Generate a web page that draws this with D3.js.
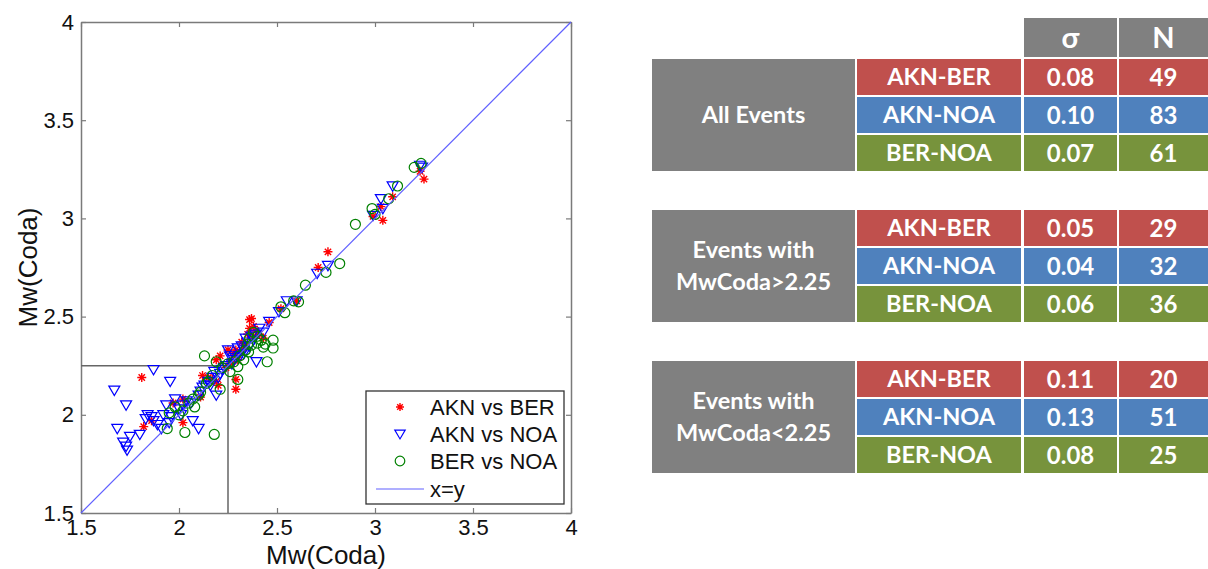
<!DOCTYPE html>
<html>
<head>
<meta charset="utf-8">
<script src="https://cdn.jsdelivr.net/npm/d3@7"></script>
<style>
  body { margin: 0; background: #fff; }
  svg { display: block; }
</style>
</head>
<body>
<div id="chart"></div>
<script>
// scatter data, [Mw station 1, Mw station 2]
const aknBer = [
  [1.81,2.19],[1.82,1.94],[1.86,1.97],[1.97,2.06],[2.02,2.08],[2.02,1.96],[2.11,2.09],[2.12,2.20],
  [2.15,2.19],[2.19,2.17],[2.20,2.15],[2.19,2.28],[2.21,2.30],[2.25,2.33],[2.27,2.26],[2.28,2.31],
  [2.29,2.33],[2.29,2.18],[2.29,2.13],[2.30,2.28],[2.32,2.37],[2.34,2.36],[2.35,2.41],[2.36,2.485],
  [2.37,2.49],[2.38,2.45],[2.39,2.43],[2.41,2.41],[2.43,2.39],[2.46,2.47],[2.52,2.54],[2.60,2.58],
  [2.71,2.75],[2.76,2.83],[2.99,3.01],[3.04,2.99],[3.03,3.06],[3.09,3.11],[3.23,3.24],[3.25,3.20],
  [2.33,2.34],[2.36,2.44],[2.26,2.27],[2.31,2.32],[2.38,2.40],[2.24,2.24],[2.17,2.18]
]
const aknNoa = [
  [1.67,2.125],[1.73,2.05],[1.87,2.23],[1.955,2.17],[1.685,1.93],[1.715,1.86],[1.73,1.84],[1.75,1.89],
  [1.735,1.82],[1.80,1.90],[1.83,1.98],[1.84,2.00],[1.86,1.99],[1.87,1.97],[1.89,1.95],[1.91,1.93],
  [1.92,2.00],[1.935,2.05],[1.96,1.99],[1.98,2.08],[2.00,2.03],[2.01,2.00],[2.02,2.05],[2.07,1.97],
  [2.10,1.93],[2.10,2.10],[2.11,2.12],[2.13,2.15],[2.15,2.17],[2.16,2.15],[2.18,2.22],[2.19,2.10],
  [2.20,2.19],[2.22,2.23],[2.25,2.33],[2.27,2.26],[2.29,2.29],[2.30,2.34],[2.31,2.30],[2.33,2.33],
  [2.34,2.39],[2.35,2.37],[2.36,2.35],[2.37,2.40],[2.395,2.27],[2.41,2.44],[2.46,2.475],[2.51,2.525],
  [2.55,2.58],[2.60,2.58],[2.705,2.72],[2.76,2.76],[2.99,3.015],[3.03,3.10],[3.04,3.05],[3.09,3.165],
  [3.23,3.27],[3.24,3.26],[2.23,2.24],[2.28,2.28],[2.32,2.35],[2.38,2.38],[2.12,2.14],[2.06,2.06],
  [2.04,2.07],[1.95,1.96],[2.24,2.25],[2.26,2.30],[2.21,2.21],[2.17,2.19],[2.33,2.31],[2.39,2.41],
  [2.43,2.42]
]
const berNoa = [
  [2.13,2.30],[2.19,2.27],[2.21,2.13],[2.18,1.90],[2.03,1.91],[1.94,1.93],[1.95,2.01],[1.98,2.04],
  [2.00,2.00],[2.08,2.04],[2.11,2.115],[2.15,2.17],[2.30,2.18],[2.26,2.22],[2.30,2.245],[2.33,2.28],
  [2.34,2.33],[2.45,2.27],[2.48,2.34],[2.48,2.38],[2.43,2.345],[2.42,2.38],[2.40,2.365],[2.37,2.355],
  [2.355,2.32],[2.54,2.52],[2.52,2.55],[2.61,2.575],[2.585,2.58],[2.645,2.66],[2.75,2.725],[2.82,2.77],
  [2.90,2.97],[2.985,3.05],[3.00,3.02],[3.07,3.10],[3.115,3.165],[3.20,3.26],[3.235,3.28],[2.07,2.08],
  [2.10,2.10],[2.17,2.20],[2.22,2.24],[2.25,2.26],[2.28,2.27],[2.31,2.30],[2.35,2.36],[2.38,2.42],
  [2.40,2.40],[2.05,2.06],[2.44,2.36],[2.36,2.39],[2.02,2.02],[2.14,2.16]
]
const seriesNames = ["AKN vs BER", "AKN vs NOA", "BER vs NOA", "x=y"]
const axisTicks = [1.5, 2, 2.5, 3, 3.5, 4]
const cutoff = 2.25

// table values
const groupLabels = [["All Events"], ["Events with", "MwCoda>2.25"], ["Events with", "MwCoda<2.25"]]
const pairLabels = ["AKN-BER", "AKN-NOA", "BER-NOA"]
const sigmaValues = [["0.08", "0.10", "0.07"], ["0.05", "0.04", "0.06"], ["0.11", "0.13", "0.08"]]
const countValues = [[49, 83, 61], [29, 32, 36], [20, 51, 25]]
const headerLabels = ["σ", "N"]

const width = 1208, height = 569
const svg = d3.select("#chart").append("svg")
  .attr("width", width)
  .attr("height", height)

const x = d3.scaleLinear().domain([1.5, 4]).range([81, 571])
const y = d3.scaleLinear().domain([1.5, 4]).range([513, 22])

const axisColor = "#7a7a7a"
const plotFont = "'Liberation Sans', Arial, sans-serif"

// axes (matlab style box, ticks inward)
const fmt = d => String(d)
svg.append("g").attr("transform", `translate(0,${y(1.5)})`)
  .call(d3.axisBottom(x).tickValues(axisTicks).tickFormat(fmt).tickSizeInner(-5).tickSizeOuter(0).tickPadding(6))
svg.append("g").attr("transform", `translate(0,${y(4)})`)
  .call(d3.axisTop(x).tickValues(axisTicks).tickFormat("").tickSizeInner(-5).tickSizeOuter(0))
svg.append("g").attr("transform", `translate(${x(1.5)},0)`)
  .call(d3.axisLeft(y).tickValues(axisTicks).tickFormat(fmt).tickSizeInner(-5).tickSizeOuter(0).tickPadding(7))
svg.append("g").attr("transform", `translate(${x(4)},0)`)
  .call(d3.axisRight(y).tickValues(axisTicks).tickFormat("").tickSizeInner(-5).tickSizeOuter(0))

svg.selectAll(".domain").attr("stroke", axisColor).attr("stroke-width", 1.5)
svg.selectAll(".tick line").attr("stroke", axisColor).attr("stroke-width", 1.2)
svg.selectAll(".tick text").attr("font-family", plotFont).attr("font-size", 22).attr("fill", "#111")

svg.append("text")
  .attr("x", (x(1.5) + x(4)) / 2).attr("y", 564)
  .attr("text-anchor", "middle")
  .attr("font-family", plotFont).attr("font-size", 26).attr("fill", "#111")
  .text("Mw(Coda)")
svg.append("text")
  .attr("transform", `translate(37,${(y(1.5) + y(4)) / 2}) rotate(-90)`)
  .attr("text-anchor", "middle")
  .attr("font-family", plotFont).attr("font-size", 26).attr("fill", "#111")
  .text("Mw(Coda)")

// cutoff box
svg.append("path")
  .attr("d", `M${x(1.5)},${y(cutoff)}H${x(cutoff)}V${y(1.5)}`)
  .attr("fill", "none").attr("stroke", "#666").attr("stroke-width", 1.5)

// markers
const star = (g, r) => {
  g.append("path")
    .attr("d", `M${-r},0H${r}M0,${-r}V${r}M${-r*0.7},${-r*0.7}L${r*0.7},${r*0.7}M${-r*0.7},${r*0.7}L${r*0.7},${-r*0.7}`)
    .attr("stroke", "#ff0000").attr("stroke-width", 1.4).attr("fill", "none")
}
const tri = (g, s) => {
  g.append("path")
    .attr("d", `M${-s},${-s*0.75}L${s},${-s*0.75}L0,${s*0.95}Z`)
    .attr("stroke", "#0000ff").attr("stroke-width", 1.2).attr("fill", "none")
}
const circ = (g, r) => {
  g.append("circle").attr("r", r)
    .attr("stroke", "#008000").attr("stroke-width", 1.2).attr("fill", "none")
}

const pts = svg.append("g")
pts.selectAll(".s1").data(aknBer).join("g").attr("class", "s1")
  .attr("transform", d => `translate(${x(d[0])},${y(d[1])})`)
  .each(function () { star(d3.select(this), 4.5) })
pts.selectAll(".s2").data(aknNoa).join("g").attr("class", "s2")
  .attr("transform", d => `translate(${x(d[0])},${y(d[1])})`)
  .each(function () { tri(d3.select(this), 5.5) })
pts.selectAll(".s3").data(berNoa).join("g").attr("class", "s3")
  .attr("transform", d => `translate(${x(d[0])},${y(d[1])})`)
  .each(function () { circ(d3.select(this), 5) })

// x = y line
svg.append("line")
  .attr("x1", x(1.5)).attr("y1", y(1.5)).attr("x2", x(4)).attr("y2", y(4))
  .attr("stroke", "#6060ff").attr("stroke-width", 1.2)

// legend
const leg = svg.append("g")
leg.append("rect").attr("x", 366).attr("y", 391).attr("width", 198).attr("height", 113)
  .attr("fill", "#fff").attr("stroke", "#333").attr("stroke-width", 1.3)
const legY = [407, 434, 461, 489]
const markers = [g => star(g, 4), g => tri(g, 5.2), g => circ(g, 4.8)]
seriesNames.forEach((name, i) => {
  const g = leg.append("g").attr("transform", `translate(400,${legY[i]})`)
  if (i < 3) markers[i](g)
  else g.append("line").attr("x1", -24).attr("x2", 24).attr("stroke", "#6060ff").attr("stroke-width", 1.2)
  leg.append("text").attr("x", 430).attr("y", legY[i]).attr("dy", "0.36em")
    .attr("font-family", plotFont).attr("font-size", 22).attr("fill", "#111")
    .text(name)
})

// table
const tableFont = "Lato, 'Open Sans', sans-serif"
const colors = ["#c0504d", "#4f81bd", "#77933c"]
const gray = "#808080"
const cols = [[652, 855], [857, 1021], [1024, 1117], [1119, 1208]]
const groupTop = [59, 210, 361]
const rowH = 36, rowGap = 2
const tbl = svg.append("g")

const cell = (x0, x1, y0, h, fill, lines, size) => {
  tbl.append("rect").attr("x", x0).attr("y", y0).attr("width", x1 - x0).attr("height", h).attr("fill", fill)
  const lh = 32
  lines.forEach((t, k) => {
    tbl.append("text")
      .attr("x", (x0 + x1) / 2)
      .attr("y", y0 + h / 2 + (k - (lines.length - 1) / 2) * lh)
      .attr("dy", "0.36em")
      .attr("text-anchor", "middle")
      .attr("font-family", tableFont).attr("font-weight", 700).attr("font-size", size)
      .attr("fill", "#fff")
      .text(t)
  })
}

headerLabels.forEach((h, i) => cell(cols[i + 2][0], cols[i + 2][1], 18, 39, gray, [h], 29))

groupLabels.forEach((lab, gi) => {
  const top = groupTop[gi]
  const gh = rowH * 3 + rowGap * 2
  cell(cols[0][0], cols[0][1], top, gh, gray, lab, 23.5)
  pairLabels.forEach((p, ri) => {
    const ry = top + ri * (rowH + rowGap)
    cell(cols[1][0], cols[1][1], ry, rowH, colors[ri], [p], 23.5)
    cell(cols[2][0], cols[2][1], ry, rowH, colors[ri], [sigmaValues[gi][ri]], 24)
    cell(cols[3][0], cols[3][1], ry, rowH, colors[ri], [String(countValues[gi][ri])], 24)
  })
})
</script>
</body>
</html>
